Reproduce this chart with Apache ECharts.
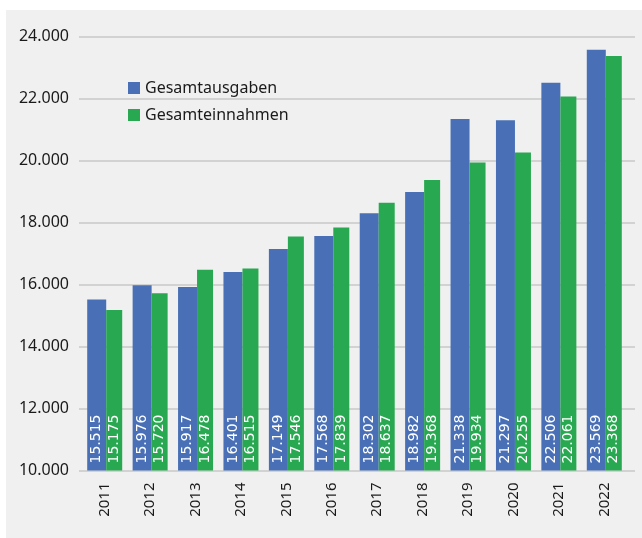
<!DOCTYPE html>
<html>
<head>
<meta charset="utf-8">
<script src="https://cdn.jsdelivr.net/npm/echarts@6/dist/echarts.min.js"></script>
<style>
  html, body { margin: 0; padding: 0; background: #fff; }
  #panel { position: absolute; left: 6px; top: 10px; width: 636px; height: 528px; background: #f0f0f0; }
  #chart { position: absolute; left: 0; top: 0; width: 642px; height: 538px; }
</style>
</head>
<body>
<div id="panel"></div>
<div id="chart"></div>
<script>
const years = ["2011", "2012", "2013", "2014", "2015", "2016", "2017", "2018", "2019", "2020", "2021", "2022"];
const ausgaben = [15515, 15976, 15917, 16401, 17149, 17568, 18302, 18982, 21338, 21297, 22506, 23569];
const einnahmen = [15175, 15720, 16478, 16515, 17546, 17839, 18637, 19368, 19934, 20255, 22061, 23368];

// deutsches Zahlenformat: 15515 -> 15.515
function fmt(v) {
  return String(v).replace(/\B(?=(\d{3})+(?!\d))/g, ".");
}

const chart = echarts.init(document.getElementById("chart"));

// senkrechte weiße Werte unten im Balken
function barLabel() {
  return {
    show: true,
    position: "insideBottom",
    rotate: 90,
    align: "left",
    verticalAlign: "middle",
    distance: 7,
    color: "#fff",
    fontFamily: "DejaVu Sans",
    fontSize: 14,
    formatter: (p) => fmt(p.value),
  };
}

chart.setOption({
  animation: false,
  backgroundColor: "transparent",
  legend: {
    orient: "vertical",
    left: 123,
    top: 75,
    itemWidth: 12,
    itemHeight: 12,
    itemGap: 11,
    icon: "rect",
    textStyle: { fontFamily: "Noto Sans", fontSize: 16, color: "#1a1a1a" },
    data: ["Gesamtausgaben", "Gesamteinnahmen"],
  },
  grid: [
    // nur für die Gitterlinien
    { left: 79, right: 7, top: 36.5, bottom: 67.5 },
    // Balken
    { left: 82, right: 15, top: 36.5, bottom: 67.5 },
  ],
  xAxis: [
    { gridIndex: 0, type: "category", data: years, show: false },
    {
      gridIndex: 1,
      type: "category",
      data: years,
      axisLine: { show: false },
      axisTick: { show: false },
      axisLabel: {
        rotate: 90,
        margin: 12,
        fontFamily: "Noto Sans",
        fontSize: 15,
        color: "#1a1a1a",
      },
    },
  ],
  yAxis: [
    {
      gridIndex: 0,
      type: "value",
      min: 10000,
      max: 24000,
      interval: 2000,
      axisLine: { show: false },
      axisTick: { show: false },
      axisLabel: {
        margin: 10,
        fontFamily: "Noto Sans",
        fontSize: 16,
        color: "#1a1a1a",
        formatter: (v) => fmt(v),
      },
      splitLine: { lineStyle: { color: "#c8c8c8", width: 1.5 } },
    },
    {
      gridIndex: 1,
      type: "value",
      min: 10000,
      max: 24000,
      interval: 2000,
      show: false,
      splitLine: { show: false },
    },
  ],
  series: [
    {
      name: "Gesamtausgaben",
      type: "bar",
      xAxisIndex: 1,
      yAxisIndex: 1,
      data: ausgaben,
      barWidth: 19,
      barGap: "0%",
      itemStyle: { color: "#4970b6" },
      label: barLabel(),
    },
    {
      name: "Gesamteinnahmen",
      type: "bar",
      xAxisIndex: 1,
      yAxisIndex: 1,
      data: einnahmen,
      barWidth: 16,
      barGap: "0%",
      itemStyle: { color: "#28a850" },
      label: barLabel(),
    },
  ],
});
</script>
</body>
</html>
